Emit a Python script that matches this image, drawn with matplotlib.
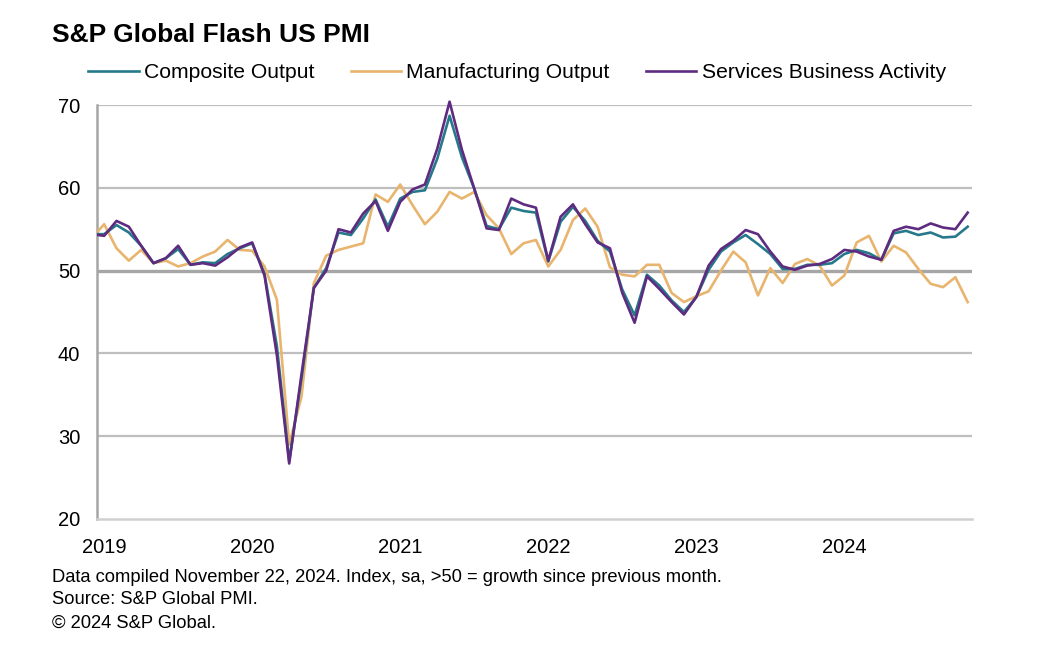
import matplotlib
matplotlib.use("Agg")
import matplotlib.pyplot as plt
import numpy as np
from matplotlib.patches import Rectangle

plt.rcParams['font.family'] = ['Liberation Sans', 'DejaVu Sans']

# Monthly data, Dec 2018 .. Nov 2024 (index -1 .. 70, Jan 2019 = 0)
start_index = -1
years = ["2019", "2020", "2021", "2022", "2023", "2024"]

composite = [54.4,
    54.4, 55.5, 54.6, 53.0, 50.9, 51.5, 52.6, 50.7, 51.0, 50.9, 52.0, 52.7,
    53.3, 49.6, 40.9, 27.0, 37.0, 47.9, 50.3, 54.6, 54.3, 56.3, 58.6, 55.3,
    58.7, 59.5, 59.7, 63.5, 68.7, 63.7, 59.9, 55.4, 55.0, 57.6, 57.2, 57.0,
    51.1, 55.9, 57.7, 56.0, 53.6, 52.3, 47.7, 44.6, 49.5, 48.2, 46.4, 45.0,
    46.8, 50.1, 52.3, 53.4, 54.3, 53.2, 52.0, 50.2, 50.2, 50.7, 50.7, 50.9,
    52.0, 52.5, 52.1, 51.3, 54.5, 54.8, 54.3, 54.6, 54.0, 54.1, 55.3]

manufacturing = [53.9,
    55.6, 52.7, 51.2, 52.5, 50.9, 51.2, 50.5, 50.9, 51.7, 52.3, 53.7, 52.5,
    52.4, 50.5, 46.5, 29.0, 34.8, 48.5, 51.8, 52.5, 52.9, 53.3, 59.2, 58.3,
    60.4, 57.9, 55.6, 57.1, 59.5, 58.7, 59.5, 56.7, 55.1, 52.0, 53.3, 53.7,
    50.5, 52.5, 56.1, 57.5, 55.3, 50.4, 49.5, 49.3, 50.7, 50.7, 47.3, 46.2,
    46.9, 47.5, 50.0, 52.3, 51.0, 47.0, 50.3, 48.5, 50.8, 51.4, 50.6, 48.2,
    49.4, 53.4, 54.2, 51.1, 53.0, 52.2, 50.2, 48.4, 48.0, 49.2, 46.2]

services = [54.4,
    54.2, 56.0, 55.3, 53.0, 50.9, 51.5, 53.0, 50.7, 50.9, 50.6, 51.6, 52.8,
    53.4, 49.4, 39.8, 26.7, 37.5, 47.9, 50.0, 55.0, 54.6, 56.9, 58.4, 54.8,
    58.3, 59.8, 60.4, 64.7, 70.4, 64.6, 59.9, 55.1, 54.9, 58.7, 58.0, 57.6,
    51.2, 56.5, 58.0, 55.6, 53.4, 52.7, 47.3, 43.7, 49.3, 47.8, 46.2, 44.7,
    46.8, 50.6, 52.6, 53.6, 54.9, 54.4, 52.3, 50.5, 50.1, 50.6, 50.8, 51.4,
    52.5, 52.3, 51.7, 51.3, 54.8, 55.3, 55.0, 55.7, 55.2, 55.0, 57.0]

series_names = ["Composite Output", "Manufacturing Output", "Services Business Activity"]
colors = ["#26798a", "#e8b46e", "#5e2b80"]

x = np.arange(len(composite)) + start_index

fig = plt.figure(figsize=(10.62, 6.5), dpi=100)
ax = fig.add_axes([97/1062, 1 - 519/650, (972 - 97)/1062, (519 - 105)/650])

xmin = -0.58
ax.set_xlim(xmin, 70.35)
ax.set_ylim(20, 70)

# gridlines
for yv in [30, 40, 60, 70]:
    ax.axhline(yv, color="#bfbfbf", lw=1.6, zorder=1)
ax.axhline(50, color="#a6a6a6", lw=2.4, zorder=1)

lw = 1.9
l_m, = ax.plot(x, manufacturing, color=colors[1], lw=lw, zorder=3)
l_c, = ax.plot(x, composite, color=colors[0], lw=lw, zorder=4)
l_s, = ax.plot(x, services, color=colors[2], lw=lw, zorder=5)
# clip only at the left edge so the 2021 peak may rise slightly above 70
clip_rect = Rectangle((xmin, 0), 80, 100, transform=ax.transData)
for l in (l_m, l_c, l_s):
    l.set_clip_path(clip_rect)

for s in ["top", "right"]:
    ax.spines[s].set_visible(False)
ax.spines["left"].set_color("#a6a6a6")
ax.spines["left"].set_linewidth(1.8)
ax.spines["bottom"].set_color("#d0d0d0")
ax.spines["bottom"].set_linewidth(1.8)

ax.set_yticks([20, 30, 40, 50, 60, 70])
ax.set_xticks([0, 12, 24, 36, 48, 60])
ax.set_xticklabels(years)
ax.tick_params(axis="both", length=0, labelsize=14.5, colors="#000000")
ax.tick_params(axis="y", pad=12)
ax.tick_params(axis="x", pad=14)

fig.text(52/1062, 1 - 35/650, "S&P Global Flash US PMI", fontsize=19, fontweight="bold",
         va="center", ha="left")

fig.legend([l_c, l_m, l_s], series_names, loc="center", bbox_to_anchor=(517/1062, 1 - 73/650),
           ncol=3, frameon=False, fontsize=15.2, handlelength=2.4, handletextpad=0.25,
           columnspacing=1.7)

foot = ["Data compiled November 22, 2024. Index, sa, >50 = growth since previous month.",
        "Source: S&P Global PMI.",
        "\u00a9 2024 S&P Global."]
for k, t in enumerate(foot):
    fig.text(52/1062, 1 - (577 + 23*k)/650, t, fontsize=13.2, va="center", ha="left")

fig.savefig("out.png", dpi=100)
